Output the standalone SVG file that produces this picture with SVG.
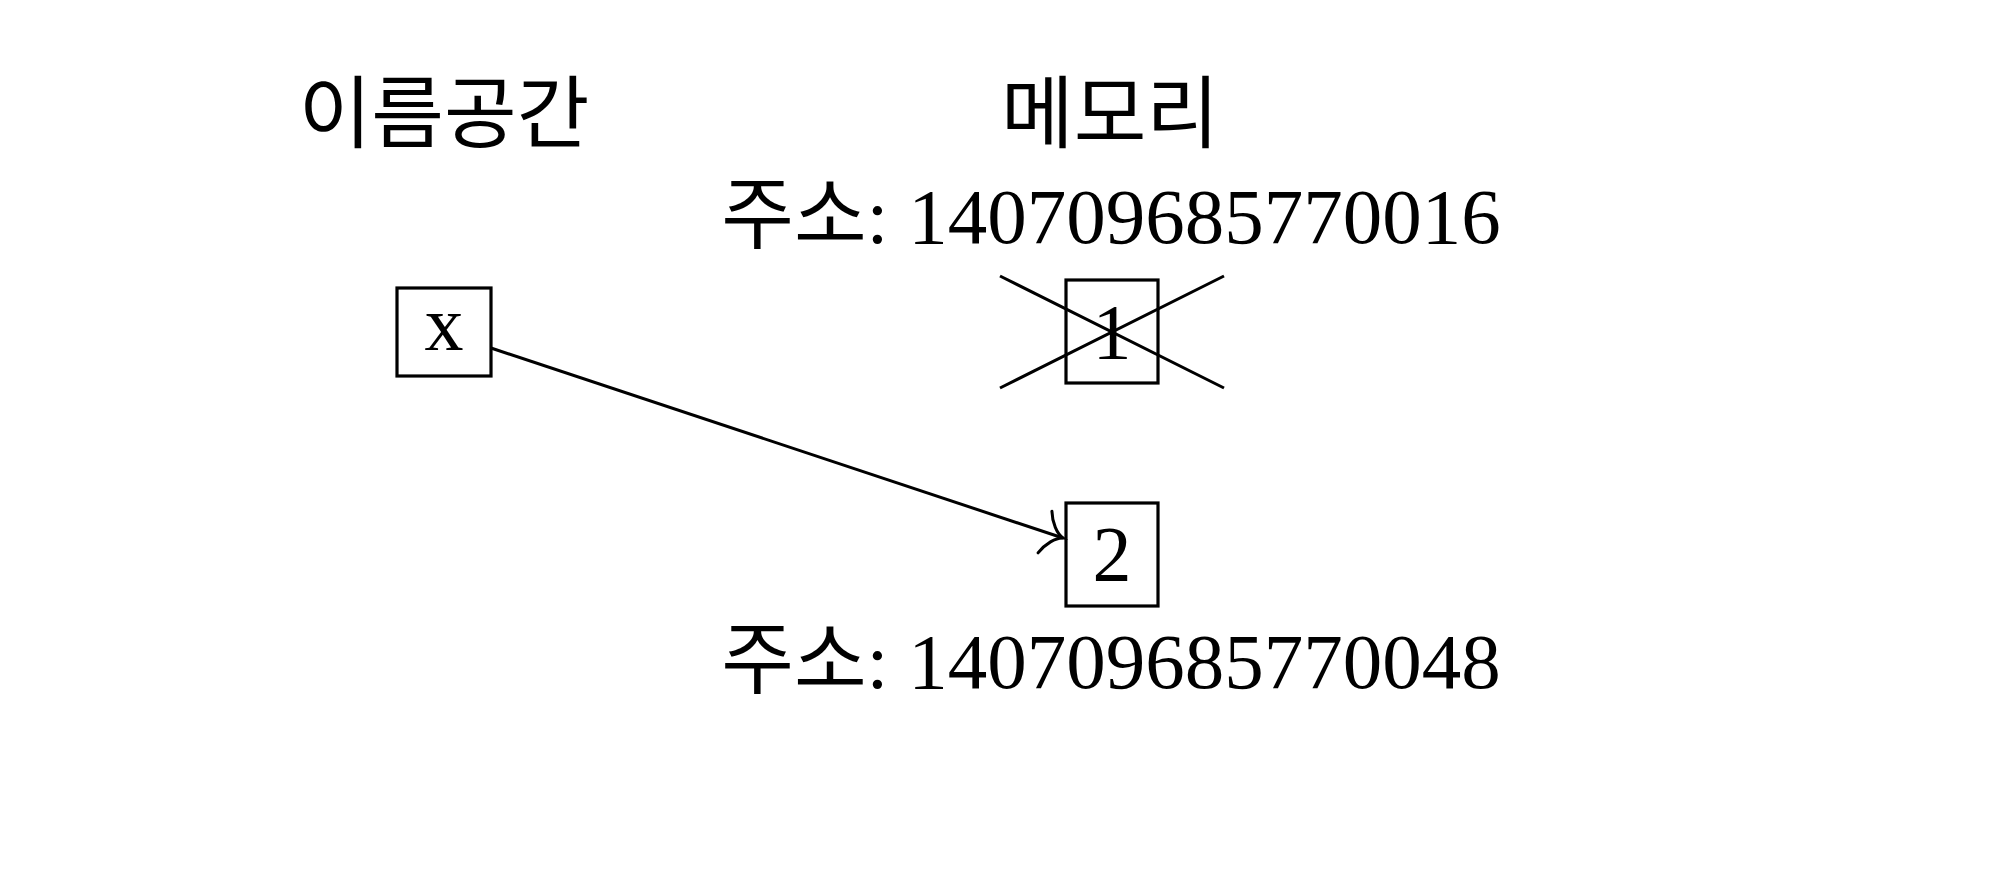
<svg xmlns="http://www.w3.org/2000/svg" width="2000" height="888" viewBox="0 0 2000 888">
<style>
.bg{fill:#fff}
.box{fill:none;stroke:#000;stroke-width:3.2}
.ln{fill:none;stroke:#000;stroke-width:3}
.ko{font-family:"Noto Sans CJK KR","Liberation Serif",sans-serif;font-size:79px;fill:#000;text-anchor:middle}
.addr{font-family:"Liberation Serif","Noto Sans CJK KR",serif;font-size:79px;fill:#000;text-anchor:middle}
.val{font-family:"Liberation Serif",serif;font-size:78px;fill:#000;text-anchor:middle}
</style>
<defs>
<marker id="to" markerWidth="1" markerHeight="1" orient="auto" markerUnits="userSpaceOnUse" overflow="visible">
<path d="M-19,-22 C-15,-11 -7,-2 0,0 C-7,2 -15,11 -19,22" fill="none" stroke="#000" stroke-width="3" stroke-linecap="round"/>
</marker>
</defs>
<rect class="bg" x="0" y="0" width="2000" height="888"/>
<g id="headings">
<text class="ko" x="444" y="142">이름공간</text>
<text class="ko" x="1110" y="142">메모리</text>
</g>
<g id="node-x">
<rect class="box" x="397" y="288" width="94" height="88"/>
<text class="val" x="444" y="350">x</text>
</g>
<g id="node-1">
<text class="addr" x="1111" y="243">주소: 140709685770016</text>
<rect class="box" x="1066" y="280" width="92" height="103"/>
<text class="val" x="1112" y="358">1</text>
<line class="ln" x1="1000" y1="276" x2="1224" y2="388"/>
<line class="ln" x1="1000" y1="388" x2="1224" y2="276"/>
</g>
<g id="node-2">
<rect class="box" x="1066" y="503" width="92" height="103"/>
<text class="val" x="1112" y="580">2</text>
<text class="addr" x="1111" y="688">주소: 140709685770048</text>
</g>
<g id="connectors">
<line class="ln" x1="491" y1="348" x2="1063" y2="538" marker-end="url(#to)"/>
</g>
</svg>
